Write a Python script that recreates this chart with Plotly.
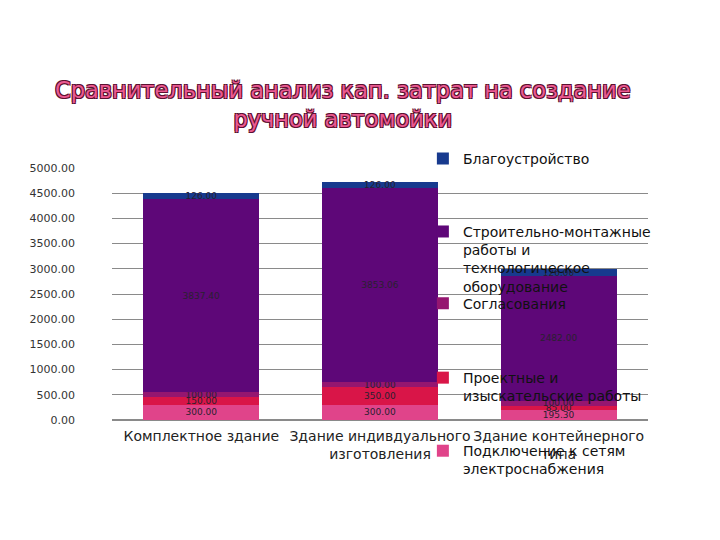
import plotly.graph_objects as go

categories = ["Комплектное здание", "Здание индивдуального<br>изготовления", "Здание контейнерного<br>типа"]

podkl = [300.00, 300.00, 195.30]       # Подключение к сетям электроснабжения
proekt = [150.00, 350.00, 85.00]       # Проектные и изыскательские работы
soglas = [100.00, 100.00, 100.00]      # Согласования
stroit = [3837.40, 3853.06, 2482.00]   # Строительно-монтажные работы
blag = [126.00, 126.00, 126.00]        # Благоустройство

y_ticks = [0, 500, 1000, 1500, 2000, 2500, 3000, 3500, 4000, 4500, 5000]

series = [
    ("Подключение к сетям<br>электроснабжения", podkl, "#E0448A", "legend5"),
    ("Проектные и<br>изыскательские работы", proekt, "#D91548", "legend4"),
    ("Согласования", soglas, "#951670", "legend3"),
    ("Строительно-монтажные<br>работы и<br>технологическое<br>оборудование", stroit, "#5E0778", "legend2"),
    ("Благоустройство", blag, "#173A8E", "legend6"),
]

fig = go.Figure()
for name, vals, color, leg in series:
    fig.add_trace(go.Bar(
        x=categories, y=vals, name=name, legend=leg, showlegend=True,
        marker=dict(color=color, line=dict(width=0)),
        texttemplate="%{y:.2f}", textposition="inside",
        insidetextanchor="middle", constraintext="none",
        textfont=dict(family="DejaVu Sans", size=9, color="#2a2030"),
    ))

# one legend box per series, placed like the original
leg_font = dict(family="DejaVu Sans", size=14, color="#111111")
def leg_box(y):
    return dict(x=0.58, y=y, xanchor="left", yanchor="top", bgcolor="rgba(0,0,0,0)",
                font=leg_font, valign="top", itemclick=False, visible=True)

fig.update_layout(
    width=720, height=540,
    barmode="stack", bargap=0.35,
    showlegend=True,
    plot_bgcolor="white", paper_bgcolor="white",
    margin=dict(l=104, r=80, t=160, b=128, autoexpand=False),
    xaxis=dict(tickfont=dict(family="DejaVu Sans", size=14, color="#222222"),
               showline=False, showgrid=False, ticklabelstandoff=6),
    yaxis=dict(range=[0, 5000], tickvals=y_ticks, tickformat=".2f",
               tickfont=dict(family="DejaVu Sans", size=11, color="#333333"),
               gridcolor="#8a8a8a", gridwidth=1, zeroline=True, zerolinecolor="#8a8a8a",
               ticklabelstandoff=36),
    legend2=leg_box(0.81),
    legend3=leg_box(0.525),
    legend4=leg_box(0.23),
    legend5=leg_box(-0.06),
    legend6=leg_box(1.10),
    annotations=[dict(
        text="Сравнительный анализ кап. затрат на создание<br>ручной автомойки",
        xref="paper", yref="paper", x=0.43, y=1.135, xanchor="center", yanchor="bottom",
        showarrow=False, align="center",
        font=dict(family="DejaVu Sans", size=22.5, color="#EA5A90",
                  shadow="1px 1px 0 #5C1030, -1px -1px 0 #5C1030, 1px -1px 0 #5C1030, -1px 1px 0 #5C1030"),
    )],
)

fig.write_html("out.html")
